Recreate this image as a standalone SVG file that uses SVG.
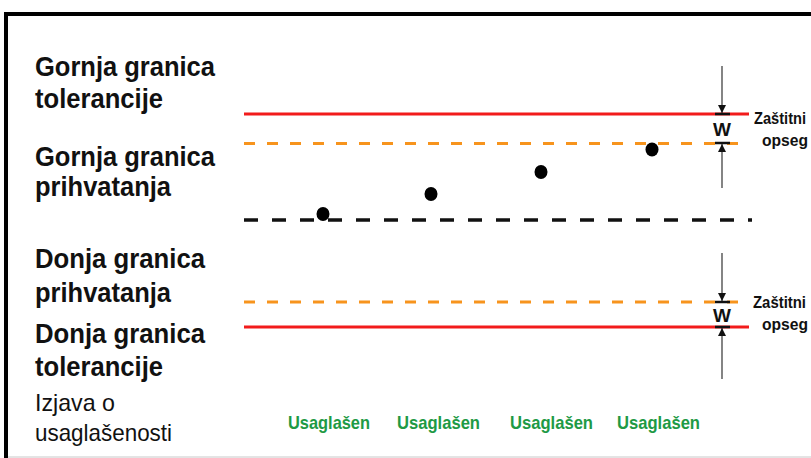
<svg xmlns="http://www.w3.org/2000/svg" width="811" height="458" viewBox="0 0 811 458">
<style>
.lbl{font-family:"Liberation Sans",Arial,sans-serif;font-weight:bold;font-size:28px;fill:#111}
.small{font-family:"Liberation Sans",Arial,sans-serif;font-size:24px;fill:#111}
.ok{font-family:"Liberation Sans",Arial,sans-serif;font-weight:bold;font-size:19px;fill:#1e9a45}
.zt{font-family:"Liberation Sans",Arial,sans-serif;font-weight:bold;font-size:16px;fill:#111}
.w{font-family:"Liberation Sans",Arial,sans-serif;font-weight:bold;font-size:19px;fill:#111}
.red{stroke:#f21b1b;stroke-width:3;fill:none}
.org{stroke:#f7941d;stroke-width:3;stroke-dasharray:11 12;fill:none}
.blk{stroke:#111;stroke-width:3.5;stroke-dasharray:14 14;fill:none}
.arr{stroke:#333;stroke-width:1.2;fill:none;marker-end:url(#ah)}
.bar{stroke:#111;stroke-width:2.5}
</style>
<defs>
<marker id="ah" viewBox="0 0 10 10" refX="10" refY="5" markerWidth="8" markerHeight="8" markerUnits="userSpaceOnUse" orient="auto">
<path d="M0,0 L10,5 L0,10 z" fill="#111"/>
</marker>
</defs>
<rect x="0" y="0" width="811" height="458" fill="#fff"/>
<rect id="frame" x="6" y="14" width="830" height="470" fill="none" stroke="#000" stroke-width="4"/>
<line x1="8" y1="457" x2="811" y2="457" stroke="#c8c8c8" stroke-width="1"/>
<g id="labels">
<text class="lbl" x="35" y="76" textLength="180" lengthAdjust="spacingAndGlyphs">Gornja granica</text>
<text class="lbl" x="35" y="108" textLength="128" lengthAdjust="spacingAndGlyphs">tolerancije</text>
<text class="lbl" x="35" y="166" textLength="180" lengthAdjust="spacingAndGlyphs">Gornja granica</text>
<text class="lbl" x="35" y="196" textLength="136" lengthAdjust="spacingAndGlyphs">prihvatanja</text>
<text class="lbl" x="35" y="268" textLength="170" lengthAdjust="spacingAndGlyphs">Donja granica</text>
<text class="lbl" x="35" y="302" textLength="136" lengthAdjust="spacingAndGlyphs">prihvatanja</text>
<text class="lbl" x="35" y="343" textLength="170" lengthAdjust="spacingAndGlyphs">Donja granica</text>
<text class="lbl" x="35" y="376" textLength="128" lengthAdjust="spacingAndGlyphs">tolerancije</text>
<text class="small" x="35" y="411" textLength="80" lengthAdjust="spacingAndGlyphs">Izjava o</text>
<text class="small" x="35" y="441" textLength="137" lengthAdjust="spacingAndGlyphs">usaglašenosti</text>
</g>
<g id="lines">
<line class="red" x1="244" y1="114" x2="749" y2="114"/>
<line class="org" x1="244" y1="143.5" x2="750" y2="143.5"/>
<line class="blk" x1="244" y1="220" x2="752" y2="220"/>
<line class="org" x1="244" y1="302" x2="750" y2="302"/>
<line class="red" x1="244" y1="327" x2="749" y2="327"/>
</g>
<g id="points" fill="#000">
<ellipse cx="323" cy="214" rx="6.5" ry="7"/>
<ellipse cx="431" cy="194" rx="6.5" ry="7"/>
<ellipse cx="541" cy="172" rx="6.5" ry="7"/>
<ellipse cx="652" cy="149.5" rx="6.5" ry="7"/>
</g>
<g id="connectors">
<line class="arr" x1="722" y1="66" x2="722" y2="113"/>
<line class="bar" x1="715" y1="114" x2="730" y2="114"/>
<line class="bar" x1="715" y1="143" x2="730" y2="143"/>
<line class="arr" x1="722" y1="188" x2="722" y2="144"/>
<line class="arr" x1="722" y1="253" x2="722" y2="301"/>
<line class="bar" x1="715" y1="302" x2="730" y2="302"/>
<line class="bar" x1="715" y1="327" x2="730" y2="327"/>
<line class="arr" x1="722" y1="379" x2="722" y2="328"/>
</g>
<g id="guard-upper">
<text class="w" x="722" y="136" text-anchor="middle">W</text>
<text class="zt" x="754" y="124" textLength="52" lengthAdjust="spacingAndGlyphs">Zaštitni</text>
<text class="zt" x="762" y="146" textLength="46" lengthAdjust="spacingAndGlyphs">opseg</text>
</g>
<g id="guard-lower">
<text class="w" x="722" y="322" text-anchor="middle">W</text>
<text class="zt" x="753" y="308" textLength="53" lengthAdjust="spacingAndGlyphs">Zaštitni</text>
<text class="zt" x="762" y="330" textLength="46" lengthAdjust="spacingAndGlyphs">opseg</text>
</g>
<g id="conformity">
<text class="ok" x="288" y="429" textLength="82" lengthAdjust="spacingAndGlyphs">Usaglašen</text>
<text class="ok" x="397" y="429" textLength="83" lengthAdjust="spacingAndGlyphs">Usaglašen</text>
<text class="ok" x="510" y="429" textLength="83" lengthAdjust="spacingAndGlyphs">Usaglašen</text>
<text class="ok" x="617" y="429" textLength="83" lengthAdjust="spacingAndGlyphs">Usaglašen</text>
</g>
</svg>
